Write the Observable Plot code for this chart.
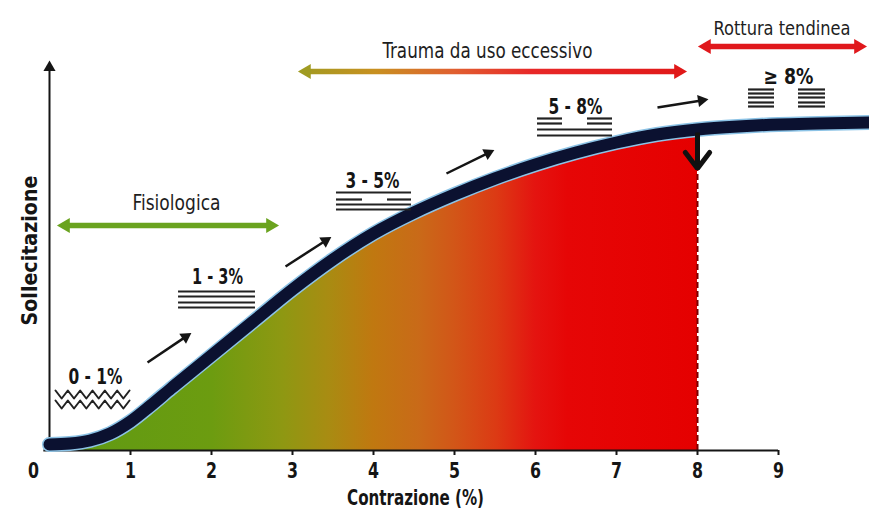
<!DOCTYPE html>
<html><head><meta charset="utf-8">
<script src="https://cdn.jsdelivr.net/npm/d3@7"></script>
<script src="https://cdn.jsdelivr.net/npm/@observablehq/plot@0.6"></script>
<style>html,body{margin:0;padding:0;background:#fff;} #chart svg{display:block;}</style>
</head><body><div id="chart"></div>
<script>
// ---- data ----
const strain = [0,0.25,0.5,0.75,1,1.25,1.5,1.75,2,2.5,3,3.5,4,4.5,5,5.5,6,6.5,7,7.5,8,8.5,9,9.5,10.12];
const stress = [6,7,10,17,29,45,62,78.5,95,128,161,191,217,238,256,272,286,298,308,316,321,324,326,327,328];
const tickValues = [0,1,2,3,4,5,6,7,8,9];
const ruptureStrain = 8;

const rangeLabels = ["0 - 1%","1 - 3%","3 - 5%","5 - 8%","≥ 8%"];
const rangeLabelX = [0.568, 2.074, 3.988, 6.494, 9.123];
const rangeLabelY = [67, 167, 263, 337, 367];

const zoneNames = ["Fisiologica","Trauma da uso eccessivo","Rottura tendinea"];
const zoneLabelX = [1.568, 5.407, 9.043];
const zoneLabelY = [241, 393, 416];
const zoneStart = [0.099, 3.074, 8.012];
const zoneEnd = [2.827, 7.864, 10.086];
const zoneY = [225, 379, 404];

// fibre glyphs (segments)
const fiberX1 = [1.593,1.593,1.593,1.593, 3.543,3.543,4.173,3.543,3.543, 6.025,6.642,6.025,6.642,6.025,6.025,
                 8.630,8.630,8.630,8.630,8.630, 9.247,9.247,9.247,9.247,9.247];
const fiberX2 = [2.543,2.543,2.543,2.543, 4.469,3.864,4.469,4.469,4.469, 6.333,6.951,6.333,6.951,6.951,6.951,
                 8.951,8.951,8.951,8.951,8.951, 9.580,9.580,9.580,9.580,9.580];
const fiberY  = [159,154,148,143, 258,251,251,246,241, 332,332,327,327,321,315,
                 361,357,353,348,344, 361,357,353,348,344];
// crimped fibres (0-1%)
const crimpRowsY = [56, 46];
const crimpFrom = 0.074, crimpTo = 0.988;

// small trend arrows
const trendFromX = [1.210, 2.914, 4.901, 7.506];
const trendFromY = [88, 184, 277, 343];
const trendToX = [1.741, 3.469, 5.481, 8.123];
const trendToY = [117, 213, 300, 351];

// ---- scales ----
const xs = Plot.scale({x: {domain: [0, 9], range: [49, 778]}});
const ys = Plot.scale({y: {domain: [0, 390], range: [450, 60]}});

function head(tipX, tipY, fromX, fromY, back) {
  const tx = xs.apply(tipX), ty = ys.apply(tipY), fx = xs.apply(fromX), fy = ys.apply(fromY);
  const dx = tx - fx, dy = ty - fy, L = Math.hypot(dx, dy);
  const cx = tx - dx / L * back, cy = ty - dy / L * back;
  return {x: xs.invert(cx), y: ys.invert(cy), rotate: Math.atan2(dy, dx) * 180 / Math.PI + 90};
}

const curve = strain.map((x, i) => ({x, y: stress[i]}));
const filled = curve.filter(d => d.x <= ruptureStrain);
const fibers = fiberX1.map((x1, i) => ({x1, x2: fiberX2[i], y: fiberY[i]}));
const crimp = [];
crimpRowsY.forEach((ry, r) => {
  const step = (crimpTo - crimpFrom) / 12;
  for (let k = 0; k <= 12; k++) crimp.push({row: r, x: crimpFrom + k * step, y: ry + (k % 2 ? -4 : 4)});
});
const rangeTexts = rangeLabels.map((t, i) => ({t, x: rangeLabelX[i], y: rangeLabelY[i]}));
const zoneTexts = zoneNames.map((t, i) => ({t, x: zoneLabelX[i], y: zoneLabelY[i]}));

const zoneColors = ["#6aa31f", "url(#traumaGrad)", "#e0181c"];
const zoneHeadColors = [["#6aa31f", "#6aa31f"], ["#a09b22", "#e01818"], ["#e0181c", "#e0181c"]];
const zoneShafts = [], zoneHeads = [];
zoneNames.forEach((n, i) => {
  const hl = head(zoneStart[i], zoneY[i], zoneEnd[i], zoneY[i], 8);
  const hr = head(zoneEnd[i], zoneY[i], zoneStart[i], zoneY[i], 8);
  zoneShafts.push({x1: hl.x, x2: hr.x, y: zoneY[i], c: zoneColors[i]});
  zoneHeads.push({...hl, c: zoneHeadColors[i][0]}, {...hr, c: zoneHeadColors[i][1]});
});
const trendLinks = [], trendHeads = [];
trendFromX.forEach((fx, i) => {
  const h = head(trendToX[i], trendToY[i], fx, trendFromY[i], 6);
  trendLinks.push({x1: fx, y1: trendFromY[i], x2: h.x, y2: h.y});
  trendHeads.push(h);
});
const yHead = [head(0, 390, 0, 0, 7)];

const FONT = "'DejaVu Sans Condensed', 'Liberation Sans Narrow', sans-serif";
const INK = "#151515";

const plot = Plot.plot({
  width: 869, height: 510,
  marginLeft: 49, marginRight: 91, marginTop: 60, marginBottom: 60,
  x: {domain: [0, 9], range: [49, 778], axis: null},
  y: {domain: [0, 390], range: [450, 60], axis: null},
  style: {fontFamily: FONT, background: "#fff", overflow: "visible"},
  marks: [
    Plot.areaY(filled, {x: "x", y: "y", curve: "monotone-x", fill: "url(#fillGrad)"}),
    Plot.ruleX([ruptureStrain], {y1: 0, y2: 322, stroke: "#7a0000", strokeWidth: 2, strokeDasharray: "6,3"}),
    // axes
    Plot.ruleX([0], {y1: 0, y2: 382, stroke: INK, strokeWidth: 2}),
    Plot.dot(yHead, {x: "x", y: "y", rotate: "rotate", symbol: "triangle", r: 4.5, fill: INK}),
    Plot.ruleY([0], {x1: -0.07, x2: 9, stroke: INK, strokeWidth: 2}),
    Plot.ruleX(tickValues.slice(1), {y1: 0, y2: -5, stroke: INK, strokeWidth: 2}),
    Plot.text(tickValues.slice(1), {x: d => d, y: -13, text: d => String(d), lineAnchor: "top",
      fontSize: 21, fontWeight: "bold", fill: INK}),
    Plot.text([tickValues[0]], {x: d => d, y: -13, text: d => String(d), lineAnchor: "top", dx: -16,
      fontSize: 21, fontWeight: "bold", fill: INK}),
    Plot.text(["Contrazione (%)"], {x: 4.519, y: -54, text: d => d, lineAnchor: "bottom",
      fontSize: 21, fontWeight: "bold", fill: INK}),
    Plot.text(["Sollecitazione"], {x: -0.235, y: 200, text: d => d, rotate: -90,
      fontSize: 21, fontWeight: "bold", fill: INK}),
    // curve
    Plot.line(curve, {x: "x", y: "y", curve: "monotone-x", stroke: "#8cc3e6", strokeWidth: 15}),
    Plot.line(curve, {x: "x", y: "y", curve: "monotone-x", stroke: "#0b1130", strokeWidth: 12}),
    // rupture arrow
    Plot.link([0], {x1: ruptureStrain, x2: ruptureStrain, y1: 318, y2: 283, stroke: "#111", strokeWidth: 5}),
    Plot.line([{x: ruptureStrain - 0.15, y: 298}, {x: ruptureStrain, y: 282}, {x: ruptureStrain + 0.15, y: 298}],
      {x: "x", y: "y", stroke: "#111", strokeWidth: 5, strokeLinejoin: "miter"}),
    // fibres
    Plot.ruleY(fibers, {x1: "x1", x2: "x2", y: "y", stroke: "#222", strokeWidth: 2.2}),
    Plot.line(crimp, {x: "x", y: "y", z: "row", stroke: "#222", strokeWidth: 2}),
    // trend arrows
    Plot.link(trendLinks, {x1: "x1", y1: "y1", x2: "x2", y2: "y2", stroke: INK, strokeWidth: 2.5}),
    Plot.dot(trendHeads, {x: "x", y: "y", rotate: "rotate", symbol: "triangle", r: 4.5, fill: INK}),
    // zone arrows
    Plot.ruleY(zoneShafts, {x1: "x1", x2: "x2", y: "y", stroke: "c", strokeWidth: 5.5}),
    Plot.dot(zoneHeads, {x: "x", y: "y", rotate: "rotate", symbol: "triangle", r: 5.5, fill: "c"}),
    // labels
    Plot.text(zoneTexts.slice(0, 2), {x: "x", y: "y", text: "t", lineAnchor: "bottom", fontSize: 22, fill: "#1e1e1e"}),
    Plot.text(zoneTexts.slice(2), {x: "x", y: "y", text: "t", lineAnchor: "bottom", fontSize: 20, fill: "#1e1e1e"}),
    Plot.text(rangeTexts, {x: "x", y: "y", text: "t", lineAnchor: "bottom", fontSize: 22, fontWeight: "bold", fill: INK})
  ]
});

const svgEl = plot.tagName.toLowerCase() === "svg" ? plot : plot.querySelector("svg");
const svg = d3.select(svgEl);
const defs = svg.insert("defs", ":first-child");
function grad(id, x1, x2, stops) {
  const g = defs.append("linearGradient").attr("id", id).attr("gradientUnits", "userSpaceOnUse")
    .attr("x1", x1).attr("x2", x2).attr("y1", 0).attr("y2", 0);
  stops.forEach(([o, c]) => g.append("stop").attr("offset", o).attr("stop-color", c));
}
grad("fillGrad", xs.apply(0), xs.apply(ruptureStrain), [
  [0, "#5e9a14"], [0.25, "#6c9c10"], [0.36, "#8e9812"], [0.43, "#a88c12"], [0.5, "#c07810"],
  [0.57, "#c96a18"], [0.625, "#d25618"], [0.69, "#dc3a14"], [0.75, "#e41410"], [0.8, "#e60606"], [1, "#e50000"]]);
grad("traumaGrad", xs.apply(zoneStart[1]), xs.apply(zoneEnd[1]), [
  [0, "#a09b22"], [0.2, "#c89020"], [0.4, "#e06030"], [0.6, "#e82828"], [1, "#e01818"]]);

// condensed look: squeeze text to the widths measured on the reference
const textWidths = {
  "Fisiologica": 88, "Trauma da uso eccessivo": 210, "Rottura tendinea": 137,
  "0 - 1%": 54, "1 - 3%": 51, "3 - 5%": 54, "5 - 8%": 54, "≥ 8%": 50,
  "Contrazione (%)": 137, "Sollecitazione": 150
};
svg.selectAll("text").each(function () {
  const t = this.textContent;
  const w = textWidths[t] ?? (/^\d$/.test(t) ? 11 : null);
  if (w != null) d3.select(this).attr("textLength", w).attr("lengthAdjust", "spacingAndGlyphs");
});
document.getElementById("chart").appendChild(plot);
</script>
</body></html>
